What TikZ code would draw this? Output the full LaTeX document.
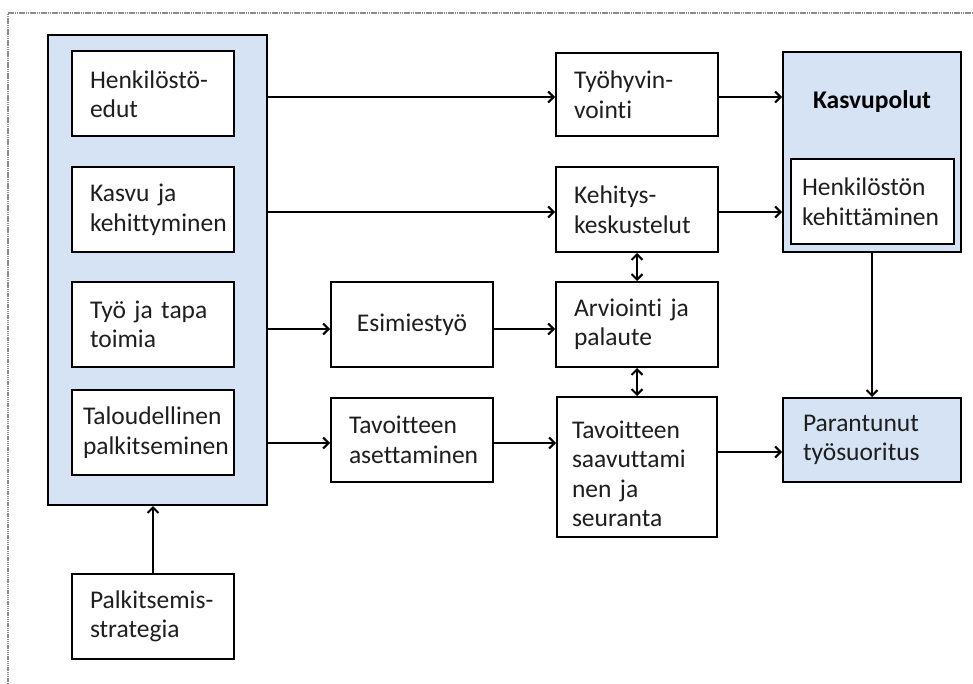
\documentclass[tikz,border=0pt]{standalone}
\usepackage{fontspec}
\setmainfont{Carlito}[Ligatures=NoCommon, WordSpace=0.7]
\usetikzlibrary{arrows.meta}
\definecolor{panelblue}{RGB}{214,227,245}
\definecolor{framegray}{RGB}{140,140,140}
\definecolor{inkgray}{RGB}{30,30,30}

\begin{document}
\begin{tikzpicture}[x=1pt,y=-1pt,
  font=\fontsize{25.5}{29.5}\selectfont,
  text=inkgray,
  box/.style={draw=black, line width=2pt, fill=white, minimum width=162pt,
    minimum height=85pt, inner xsep=18pt, inner ysep=0pt,
    text width=126pt, align=left},
  panel/.style={draw=black, line width=2pt, fill=panelblue, inner sep=0pt},
  tip/.tip={Straight Barb[length=5.5pt,width=11pt]},
  arr/.style={line width=2pt, -tip},
  darr/.style={line width=2pt, tip-tip},
]
\useasboundingbox (0,0) rectangle (973,684);

% page frame (only its top and left edges fall inside the page)
\draw[framegray, line width=1.3pt, dash pattern=on 1.5pt off 0.7pt]
  (8,684) -- (8,13) -- (973,13);

% left panel with the four reward areas
\node[panel, minimum width=219pt, minimum height=470pt] (lc) at (157.5,270) {};
\node[box] (h1) at (153,94)    {Henkilöstö-\\edut};
\node[box] (h2) at (153,210)   {Kasvu ja\\kehittyminen};
\node[box] (h3) at (153,324.5) {Työ ja tapa\\toimia};
\node[box, inner xsep=11pt, text width=140pt] (h4) at (153,432.5)
  {Taloudellinen\\palkitseminen};
\node[box] (pal) at (153,616.5) {Palkitsemis-\\strategia};

% middle columns
\node[box, minimum height=83pt] (ty) at (637,94.5) {Työhyvin-\\vointi};
\node[box] (keh) at (637,209.5) {Kehitys-\\keskustelut};
\node[box] (arv) at (637,324.5) {Arviointi ja\\palaute};
\node[box, minimum width=160pt, text width=130pt, inner xsep=15pt,
  minimum height=140pt] (sav) at (637,467)
  {\rule{0pt}{31pt}Tavoitteen\\saavuttami\\nen ja\\seuranta};
\node[box, align=center] (esi) at (412,324.5) {Esimiestyö};
\node[box, minimum height=84pt] (tas) at (412,440) {Tavoitteen\\asettaminen};

% right column
\node[panel, minimum width=178pt, minimum height=200pt,
  label={[anchor=center, yshift=-51pt, text=black,
    font=\fontsize{25.5}{29}\selectfont\bfseries]north:Kasvupolut}]
  (kasvu) at (872,152) {};
\node[box, minimum width=163pt, inner xsep=11pt, text width=141pt]
  (hk) at (872.5,201.5) {Henkilöstön\\kehittäminen};
\node[box, fill=panelblue, minimum width=178pt, minimum height=84pt,
  inner xsep=20pt, text width=138pt] (par) at (872,440)
  {Parantunut\\työsuoritus};

% connectors
\draw[arr] (lc.east |- 0,97) -- (ty.west |- 0,97);
\draw[arr] (ty.east |- 0,97) -- (kasvu.west |- 0,97);
\draw[arr] (lc.east |- 0,212) -- (keh.west |- 0,212);
\draw[arr] (keh.east |- 0,212) -- (kasvu.west |- 0,212);
\draw[arr] (lc.east |- 0,329) -- (esi.west |- 0,329);
\draw[arr] (esi.east |- 0,329) -- (arv.west |- 0,329);
\draw[arr] (lc.east |- 0,443) -- (tas.west |- 0,443);
\draw[arr] (tas.east |- 0,443) -- (sav.west |- 0,443);
\draw[arr] (sav.east |- 0,452) -- (par.west |- 0,452);
\draw[darr] (keh.south) -- (arv.north);
\draw[darr] (arv.south) -- (sav.north);
\draw[arr] (kasvu.south) -- (par.north);
\draw[arr] (pal.north) -- (pal.north |- lc.south);
\end{tikzpicture}
\end{document}
